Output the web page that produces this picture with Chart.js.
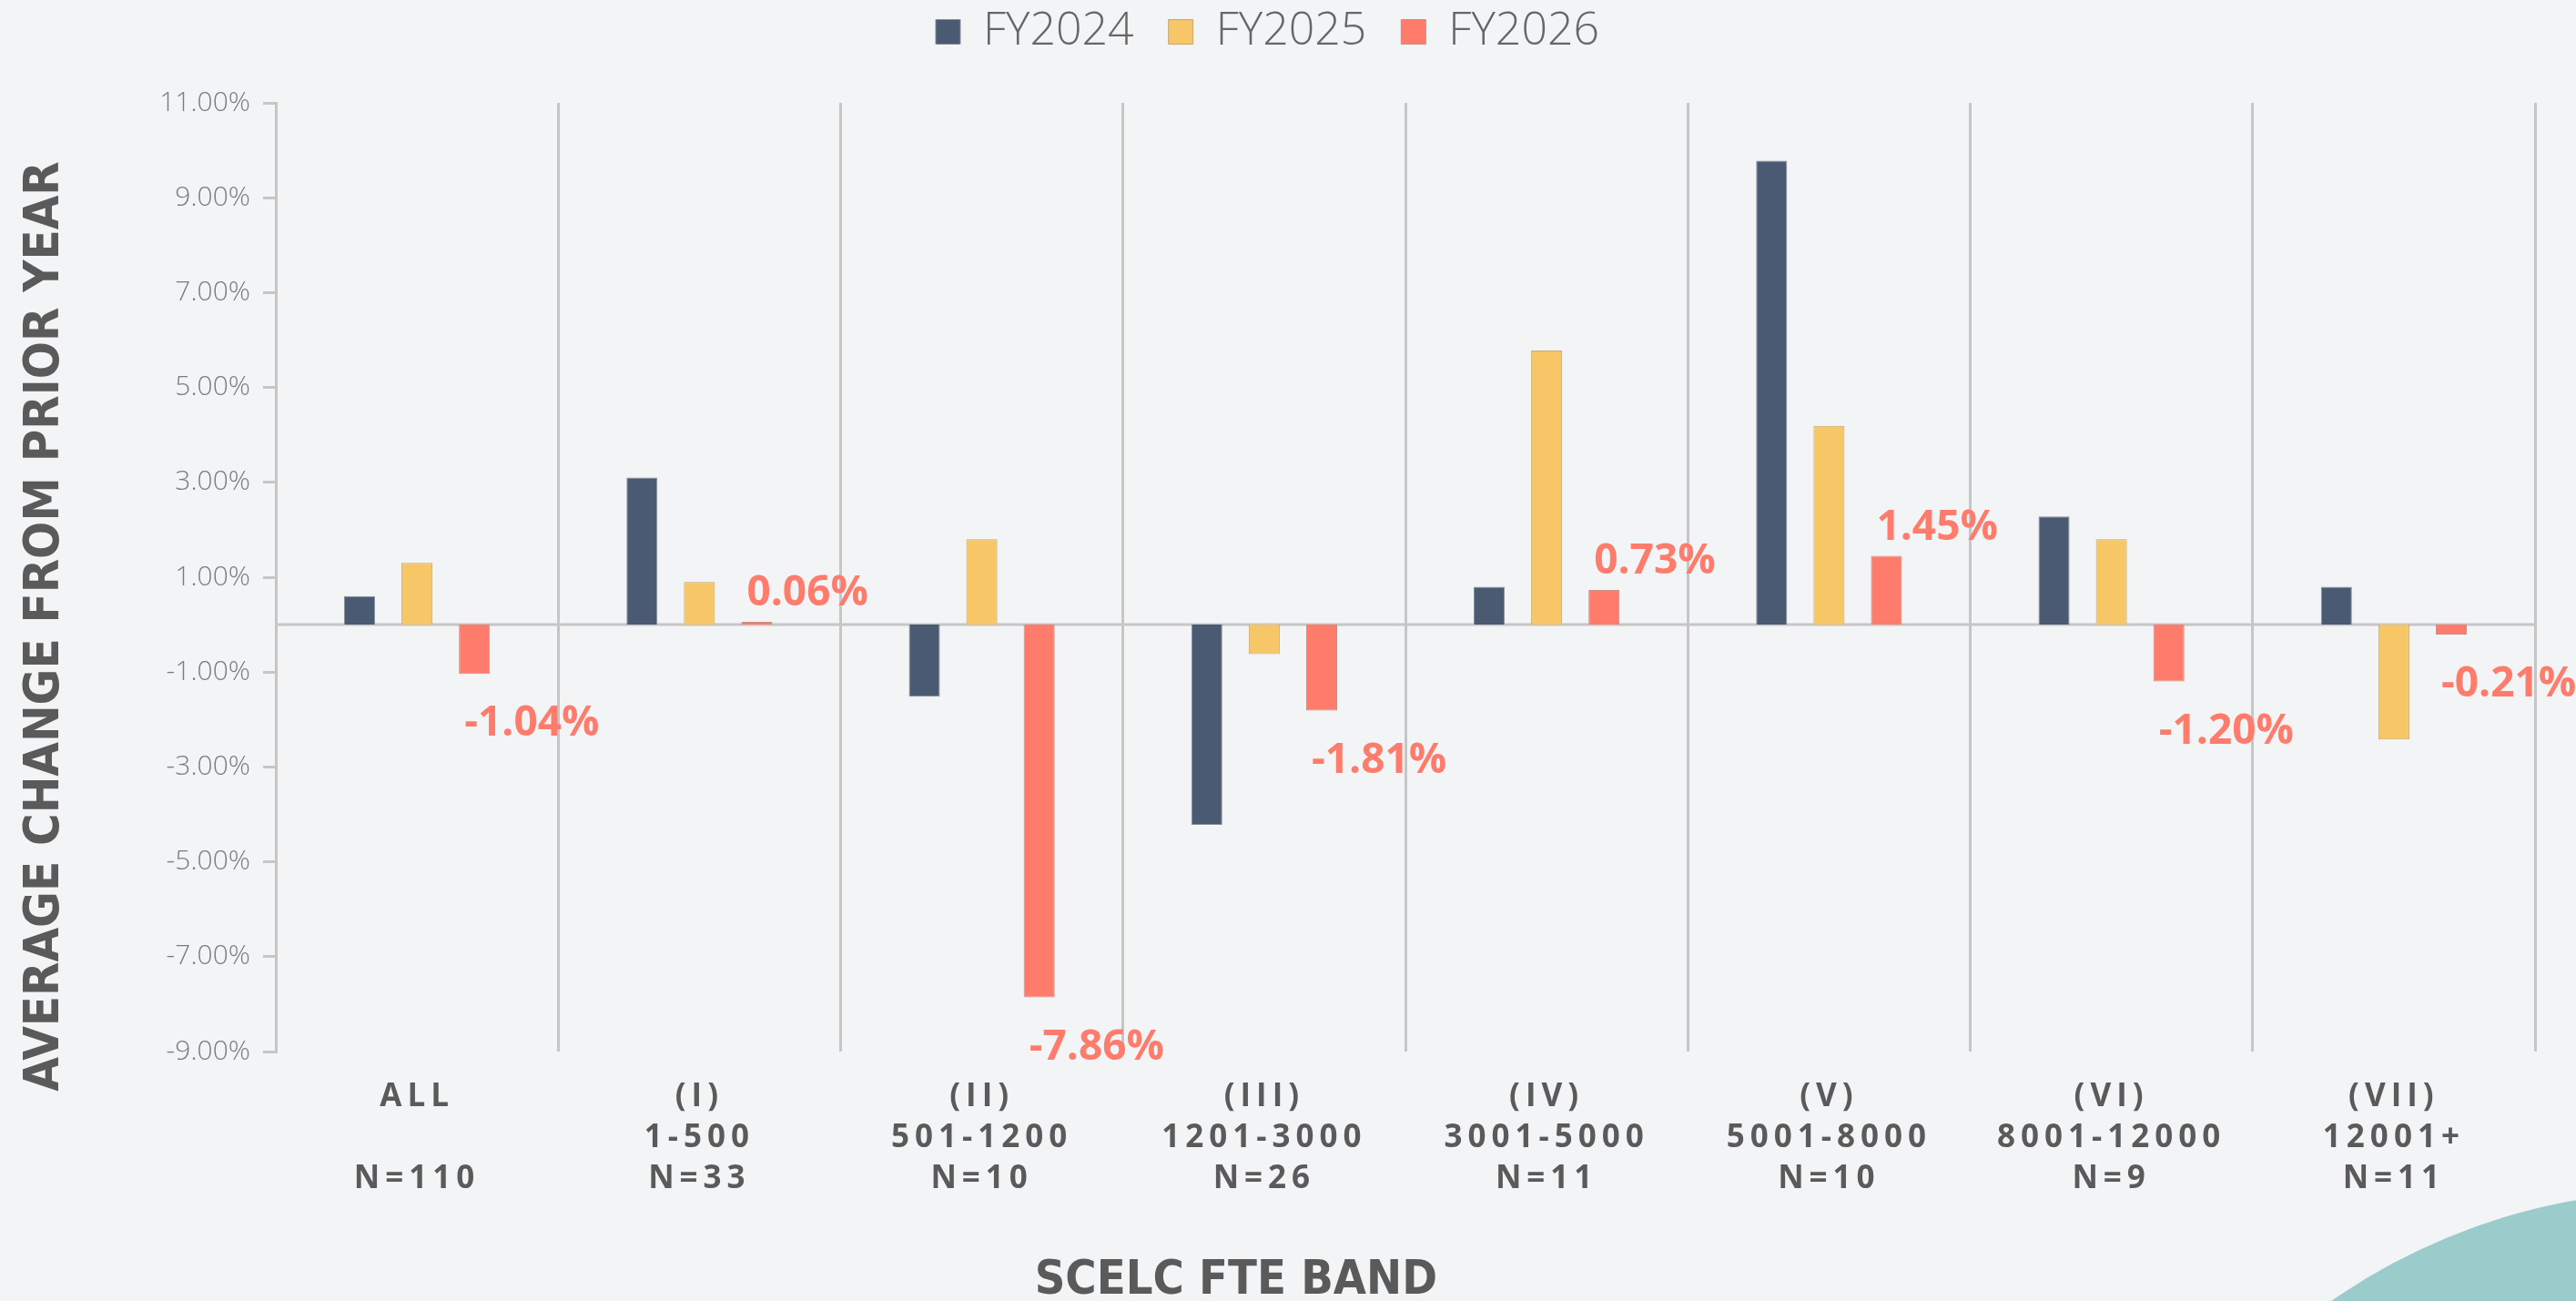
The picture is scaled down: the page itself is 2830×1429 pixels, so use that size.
<!DOCTYPE html>
<html lang="en">
<head>
<meta charset="UTF-8">
<title>Average Change From Prior Year by SCELC FTE Band</title>
<script src="https://cdn.jsdelivr.net/npm/chart.js"></script>
<style>
    html, body { margin: 0; padding: 0; background: #f2f4f6; overflow: hidden; }
    #wrap { position: relative; width: 2830px; height: 1429px; overflow: hidden; }
    /* teal decoration in the bottom right corner */
    #blob { position: absolute; left: 2271px; top: 1308px; width: 1352px; height: 1352px; border-radius: 50%; background: #9ccbcc; }
    canvas { position: absolute; left: 0; top: 0; }
</style>
</head>
<body>
<div id="wrap">
    <div id="blob"></div>
    <canvas id="chart" width="2830" height="1429"></canvas>
</div>
<script>
// FTE bands (multi-line tick labels)
const bands = [
    ['ALL', '', 'N=110'],
    ['(I)', '1-500', 'N=33'],
    ['(II)', '501-1200', 'N=10'],
    ['(III)', '1201-3000', 'N=26'],
    ['(IV)', '3001-5000', 'N=11'],
    ['(V)', '5001-8000', 'N=10'],
    ['(VI)', '8001-12000', 'N=9'],
    ['(VII)', '12001+', 'N=11']
];
const seriesNames = ['FY2024', 'FY2025', 'FY2026'];
const fy2024 = [0.60, 3.10, -1.52, -4.22, 0.80, 9.78, 2.28, 0.80];
const fy2025 = [1.30, 0.90, 1.80, -0.62, 5.78, 4.19, 1.80, -2.42];
const fy2026 = [-1.04, 0.06, -7.86, -1.81, 0.73, 1.45, -1.20, -0.21];
const yMin = -9, yMax = 11, yStep = 2;

const GRID = '#c6c6c6';
const TEXT = '#5a5a5a';
const SANS = "'Open Sans', 'Noto Sans', sans-serif";
const NARROW = "'Liberation Sans Narrow', 'DejaVu Sans Condensed', sans-serif";

// zero line across the plot
const zeroLine = {
    id: 'zeroLine',
    beforeDatasetsDraw(chart) {
        const { ctx, chartArea } = chart;
        const y = chart.scales.y.getPixelForValue(0);
        ctx.save();
        ctx.strokeStyle = GRID;
        ctx.lineWidth = 3;
        ctx.beginPath();
        ctx.moveTo(chartArea.left, y);
        ctx.lineTo(chartArea.right, y);
        ctx.stroke();
        ctx.restore();
    }
};

// FY2026 value labels
const valueLabels = {
    id: 'valueLabels',
    afterDatasetsDraw(chart) {
        const { ctx } = chart;
        const meta = chart.getDatasetMeta(2);
        ctx.save();
        ctx.font = "bold 46px 'Open Sans', 'Noto Sans', sans-serif";
        ctx.fillStyle = '#ff7b6b';
        ctx.textAlign = 'left';
        ctx.textBaseline = 'middle';
        meta.data.forEach((bar, i) => {
            const v = fy2026[i];
            const y = v >= 0 ? bar.y - 31 : bar.y + 55;
            ctx.fillText(v.toFixed(2) + '%', bar.x - bar.width / 2 + 6, y);
        });
        ctx.restore();
    }
};

// axis titles, spaced letters on the band labels, legend nudged up
const axisExtras = {
    id: 'axisExtras',
    afterLayout(chart) {
        chart.legend.top -= 43;
        chart.legend.bottom -= 43;
    },
    beforeDraw(chart) {
        const s = chart.scales.x;
        if (!s._spaced) {
            const orig = s.drawLabels.bind(s);
            s.drawLabels = function (area) {
                chart.ctx.save();
                chart.ctx.letterSpacing = '6px';
                orig(area);
                chart.ctx.restore();
            };
            s._spaced = true;
        }
    },
    afterDraw(chart) {
        const { ctx, chartArea } = chart;
        ctx.save();
        ctx.fillStyle = TEXT;
        ctx.textAlign = 'center';
        ctx.textBaseline = 'middle';
        ctx.font = "bold 52px " + NARROW;
        ctx.fillText('SCELC FTE BAND', chartArea.left + (chartArea.right - chartArea.left) * 0.425, 1407);
        ctx.translate(50, (chartArea.top + chartArea.bottom) / 2 + 54);
        ctx.rotate(-Math.PI / 2);
        ctx.font = "bold 54px " + NARROW;
        ctx.fillText('AVERAGE CHANGE FROM PRIOR YEAR', 0, 0);
        ctx.restore();
    }
};

new Chart(document.getElementById('chart'), {
    type: 'bar',
    data: {
        labels: bands,
        datasets: [
            { label: seriesNames[0], data: fy2024, backgroundColor: '#4a5a73', borderColor: '#8a8f96', borderWidth: 1 },
            { label: seriesNames[1], data: fy2025, backgroundColor: '#f7c667', borderColor: '#c9a86a', borderWidth: 1 },
            { label: seriesNames[2], data: fy2026, backgroundColor: '#ff7b6b', borderColor: '#c98f88', borderWidth: 1 }
        ]
    },
    options: {
        responsive: false,
        animation: false,
        devicePixelRatio: 1,
        categoryPercentage: 0.61,
        barPercentage: 0.54,
        layout: { padding: { left: 0, right: 45, top: 15, bottom: 0 } },
        plugins: {
            legend: {
                position: 'top',
                labels: {
                    color: '#666',
                    font: { family: SANS, size: 50, weight: '300' },
                    boxWidth: 27,
                    boxHeight: 27,
                    padding: 38
                }
            },
            tooltip: { enabled: false }
        },
        scales: {
            x: {
                offset: true,
                grid: {
                    offset: true,
                    color: GRID,
                    lineWidth: 3,
                    drawTicks: false
                },
                border: { display: false },
                ticks: {
                    color: TEXT,
                    font: { family: SANS, size: 35, weight: 'bold', lineHeight: 1.29 },
                    padding: 27,
                    maxRotation: 0,
                    autoSkip: false
                },
                afterFit(scale) { scale.height = 274; }
            },
            y: {
                min: yMin,
                max: yMax,
                ticks: {
                    stepSize: yStep,
                    color: '#7c7c7c',
                    font: { family: SANS, size: 30, weight: '300' },
                    padding: 14,
                    callback: v => v.toFixed(2) + '%'
                },
                grid: {
                    drawOnChartArea: false,
                    tickColor: GRID,
                    tickLength: 14,
                    lineWidth: 3
                },
                border: { color: GRID, width: 3 },
                afterFit(scale) { scale.width = 303; }
            }
        }
    },
    plugins: [zeroLine, valueLabels, axisExtras]
});
</script>
</body>
</html>
